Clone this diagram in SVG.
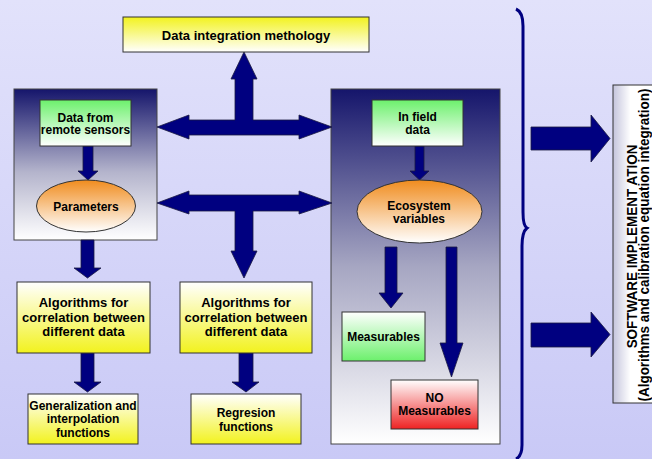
<svg xmlns="http://www.w3.org/2000/svg" width="652" height="459" viewBox="0 0 652 459">
<defs>
<linearGradient id="bg" x1="0" y1="0" x2="0" y2="1"><stop offset="0" stop-color="#e2e2fb"/><stop offset="1" stop-color="#c9c9f6"/></linearGradient>
<linearGradient id="panel" x1="0" y1="0" x2="0" y2="1"><stop offset="0" stop-color="#15156b"/><stop offset="0.5" stop-color="#a6a6c2"/><stop offset="1" stop-color="#ffffff"/></linearGradient>
<linearGradient id="panelL" x1="0" y1="0" x2="0" y2="1"><stop offset="0" stop-color="#15156b"/><stop offset="0.55" stop-color="#b4b4cc"/><stop offset="1" stop-color="#ffffff"/></linearGradient>
<linearGradient id="yTop" x1="0" y1="0" x2="0" y2="1"><stop offset="0" stop-color="#f2f21e"/><stop offset="1" stop-color="#ffffff"/></linearGradient>
<linearGradient id="yBot" x1="0" y1="0" x2="0" y2="1"><stop offset="0" stop-color="#ffffff"/><stop offset="1" stop-color="#f2f21e"/></linearGradient>
<linearGradient id="gTop" x1="0" y1="0" x2="0" y2="1"><stop offset="0" stop-color="#6cf06c"/><stop offset="1" stop-color="#ffffff"/></linearGradient>
<linearGradient id="gBot" x1="0" y1="0" x2="0" y2="1"><stop offset="0" stop-color="#ffffff"/><stop offset="1" stop-color="#6cf06c"/></linearGradient>
<linearGradient id="rBot" x1="0" y1="0" x2="0" y2="1"><stop offset="0" stop-color="#ffffff"/><stop offset="1" stop-color="#ee2222"/></linearGradient>
<linearGradient id="oTop" x1="0" y1="0" x2="0" y2="1"><stop offset="0" stop-color="#f08c1e"/><stop offset="1" stop-color="#ffffff"/></linearGradient>
<linearGradient id="sw" x1="0" y1="0" x2="1" y2="0"><stop offset="0" stop-color="#c4c4dc"/><stop offset="0.35" stop-color="#ffffff"/><stop offset="1" stop-color="#ffffff"/></linearGradient>
</defs>
<style>
.box{stroke:#333333;stroke-width:1}
.pan{stroke:#444444;stroke-width:1}
.arr{fill:#000080;stroke:#1a1a40;stroke-width:0.8}
.t{font-family:"Liberation Sans",Arial,sans-serif;font-weight:bold;fill:#000;text-anchor:middle}
.s12{font-size:12px}
.s13{font-size:13px}
</style>
<rect x="0" y="0" width="652" height="459" fill="url(#bg)"/>

<g id="panel-left"><rect class="pan" x="14" y="89" width="143" height="151" fill="url(#panelL)"/></g>
<g id="panel-right"><rect class="pan" x="331" y="89" width="169" height="355" fill="url(#panel)"/></g>

<g id="connectors">
<polygon class="arr" points="157,127 189,115 189,120 235,120 235,79 231,79 244,52 257,79 253,79 253,120 299,120 299,115 332,127 299,139 299,135 189,135 189,139"/>
<polygon class="arr" points="157,203 189,191 189,195 299,195 299,191 332,203 299,214 299,211 253,211 253,251 257,251 244,278 231,251 235,251 235,211 189,211 189,214"/>
<polygon class="arr" points="83,146 93,146 93,171 98,171 88,180 78,171 83,171"/>
<polygon class="arr" points="415,146 424,146 424,171 429,171 419.5,180 410,171 415,171"/>
<polygon class="arr" points="81,240 94,240 94,268 101,268 87.5,278 74,268 81,268"/>
<polygon class="arr" points="81,353 94,353 94,382 101,382 87.5,392 74,382 81,382"/>
<polygon class="arr" points="239,353 253,353 253,382 259,382 246,392 232,382 239,382"/>
<polygon class="arr" points="385,247 397,247 397,293 403,293 391,308 379,293 385,293"/>
<polygon class="arr" points="446,247 457,247 457,343 463,343 451.5,377 440,343 446,343"/>
<polygon class="arr" points="531,127 591,127 591,115 610,138.5 591,162 591,150 531,150"/>
<polygon class="arr" points="531,323 591,323 591,312 610,334.5 591,357 591,347 531,347"/>
<path d="M516,9 Q523,12 523,26 L523,212 Q523,226 527,228 Q522,232 522,246 L522,445 Q522,456 516,459" fill="none" stroke="#000080" stroke-width="3"/>
</g>

<g id="n-integration"><rect class="box" x="123" y="17" width="246" height="35" fill="url(#yTop)"/><text class="t s13" x="246" y="39.5">Data integration methology</text></g>
<g id="n-remote"><rect class="box" x="40" y="100" width="91" height="46" fill="url(#gTop)"/><text class="t s12" x="85.5" y="121.5">Data from</text><text class="t s12" x="85.5" y="134">remote sensors</text></g>
<g id="n-parameters"><ellipse class="box" cx="86" cy="206" rx="49.5" ry="26" fill="url(#oTop)"/><text class="t s12" x="86" y="210.5">Parameters</text></g>
<g id="n-infield"><rect class="box" x="372" y="100" width="91" height="46" fill="url(#gTop)"/><text class="t s12" x="417.5" y="121">In field</text><text class="t s12" x="417.5" y="133.5">data</text></g>
<g id="n-ecosystem"><ellipse class="box" cx="419.5" cy="211.5" rx="62.5" ry="31.5" fill="url(#oTop)"/><text class="t s12" x="419" y="210">Ecosystem</text><text class="t s12" x="419" y="222.7">variables</text></g>
<g id="n-alg-left"><rect class="box" x="17" y="282" width="133" height="71" fill="url(#yBot)"/><text class="t s13" x="83.5" y="306.5">Algorithms for</text><text class="t s13" x="83.5" y="321.5">correlation between</text><text class="t s13" x="83.5" y="336">different data</text></g>
<g id="n-alg-mid"><rect class="box" x="180" y="282" width="132" height="71" fill="url(#yBot)"/><text class="t s13" x="246" y="306.5">Algorithms for</text><text class="t s13" x="246" y="321.5">correlation between</text><text class="t s13" x="246" y="336">different data</text></g>
<g id="n-general"><rect class="box" x="28" y="394" width="110" height="50" fill="url(#yBot)"/><text class="t s12" x="83" y="410">Generalization and</text><text class="t s12" x="83" y="423.3">interpolation</text><text class="t s12" x="83" y="436.5">functions</text></g>
<g id="n-regresion"><rect class="box" x="191" y="394" width="110" height="50" fill="url(#yBot)"/><text class="t s12" x="246" y="417">Regresion</text><text class="t s12" x="246" y="431">functions</text></g>
<g id="n-measurables"><rect class="box" x="342" y="312" width="83" height="49" fill="url(#gBot)"/><text class="t s12" x="383.5" y="341">Measurables</text></g>
<g id="n-nomeasurables"><rect class="box" x="391" y="380" width="87" height="49" fill="url(#rBot)"/><text class="t s12" x="434.5" y="401.5">NO</text><text class="t s12" x="434.5" y="415">Measurables</text></g>
<g id="n-software"><rect class="box" x="613" y="85" width="50" height="318" fill="url(#sw)"/>
<text class="t" font-size="13.5" transform="translate(637,246.5) rotate(-90) scale(1,1.15)">SOFTWARE IMPLEMENT ATION</text>
<text class="t" font-size="13.5" transform="translate(649,245) rotate(-90) scale(1,1.15)">(Algorithms and calibration equation integration)</text></g>
</svg>
